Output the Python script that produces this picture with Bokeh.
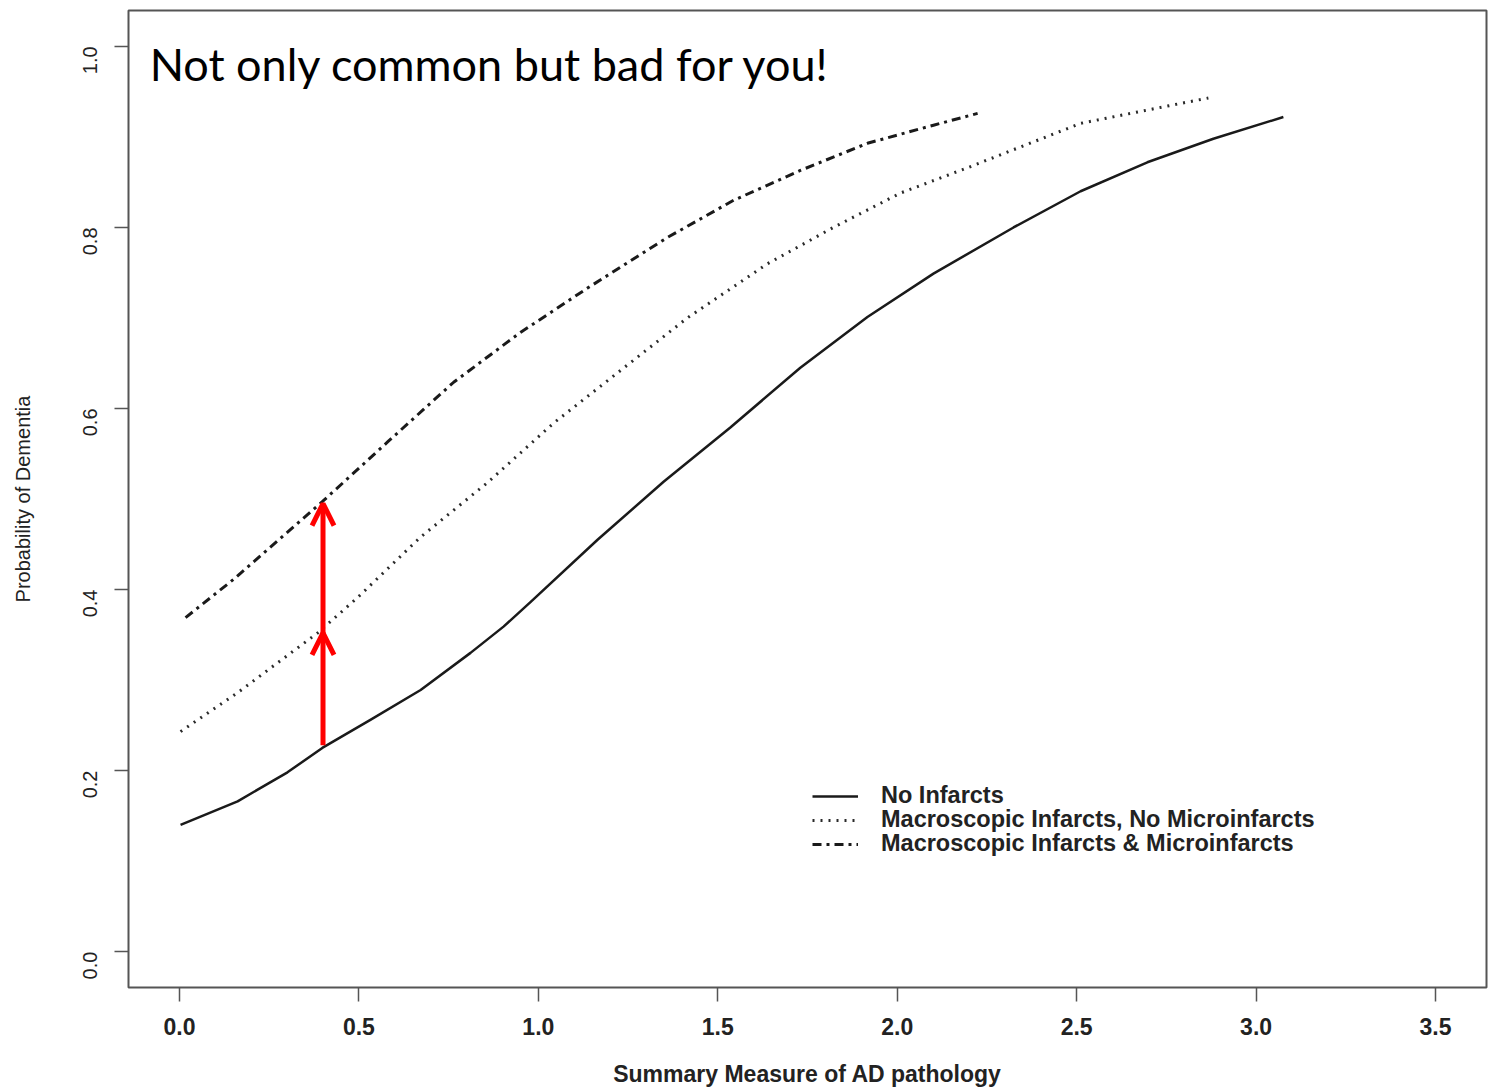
import math
from bokeh.plotting import figure
from bokeh.models import (Range1d, FixedTicker, PrintfTickFormatter, Legend, LegendItem,
                          Label, Arrow, OpenHead, ColumnDataSource)
from bokeh.embed import file_html
from bokeh.resources import INLINE

# ---- data ----
x_none = [0.003, 0.162, 0.301, 0.398, 0.532, 0.672, 0.811, 0.903, 0.978, 1.165, 1.349, 1.535,
          1.730, 1.917, 2.101, 2.324, 2.511, 2.697, 2.881, 3.076]
y_none = [0.140, 0.166, 0.198, 0.225, 0.256, 0.289, 0.330, 0.359, 0.386, 0.455, 0.519, 0.579,
          0.645, 0.701, 0.749, 0.800, 0.840, 0.872, 0.898, 0.922]

x_macro = [0.003, 0.162, 0.385, 0.496, 0.672, 0.858, 1.043, 1.229, 1.415, 1.639, 1.822, 2.009,
           2.196, 2.511, 2.789, 2.867]
y_macro = [0.243, 0.286, 0.352, 0.391, 0.458, 0.518, 0.584, 0.642, 0.700, 0.760, 0.800, 0.838,
           0.866, 0.915, 0.937, 0.943]

x_micro = [0.017, 0.150, 0.398, 0.580, 0.764, 0.950, 1.137, 1.360, 1.544, 1.730, 1.917, 2.101, 2.224]
y_micro = [0.369, 0.411, 0.497, 0.563, 0.629, 0.684, 0.733, 0.789, 0.830, 0.863, 0.893, 0.913, 0.926]

series_labels = ["No Infarcts",
                 "Macroscopic Infarcts, No Microinfarcts",
                 "Macroscopic Infarcts & Microinfarcts"]

x_ticks = [0.0, 0.5, 1.0, 1.5, 2.0, 2.5, 3.0, 3.5]
y_ticks = [0.0, 0.2, 0.4, 0.6, 0.8, 1.0]

arrow_x = [0.4, 0.4]
arrow_y_start = [0.228, 0.352]
arrow_y_end = [0.352, 0.495]

headline = "Not only common but bad for you!"
headline_x = -0.083
headline_y = 0.981

x_title = "Summary Measure of AD pathology"
y_title = "Probability of Dementia"

# ---- figure ----
p = figure(width=1493, height=1089,
           x_range=Range1d(-0.142, 3.642), y_range=Range1d(-0.0397, 1.0397),
           output_backend="svg", toolbar_location=None,
           min_border_left=128, min_border_right=7, min_border_top=10, min_border_bottom=101)
p.grid.visible = False
p.background_fill_color = "white"
p.border_fill_color = "white"
p.outline_line_color = "#555555"
p.outline_line_width = 2

# axes
for ax in (p.xaxis[0], p.yaxis[0]):
    ax.axis_line_color = None
    ax.major_tick_line_color = "#555555"
    ax.major_tick_line_width = 1.5
    ax.major_tick_in = 0
    ax.major_tick_out = 14
    ax.minor_tick_line_color = None
    ax.major_label_text_font = "Liberation Sans"
    ax.major_label_text_color = "#222222"
    ax.axis_label_text_font = "Liberation Sans"
    ax.axis_label_text_color = "#222222"
    ax.axis_label_text_font_style = "normal"
    ax.formatter = PrintfTickFormatter(format="%.1f")

p.xaxis[0].ticker = FixedTicker(ticks=x_ticks)
p.xaxis[0].major_label_text_font_size = "23px"
p.xaxis[0].major_label_text_font_style = "bold"
p.xaxis[0].major_label_standoff = 16
p.xaxis[0].axis_label = x_title
p.xaxis[0].axis_label_text_font_size = "23px"
p.xaxis[0].axis_label_text_font_style = "bold"
p.xaxis[0].axis_label_standoff = 23

p.yaxis[0].ticker = FixedTicker(ticks=y_ticks)
p.yaxis[0].major_label_orientation = math.pi / 2
p.yaxis[0].major_label_text_font_size = "20px"
p.yaxis[0].major_label_standoff = 24
p.yaxis[0].axis_label = y_title
p.yaxis[0].axis_label_text_font_size = "20px"
p.yaxis[0].axis_label_standoff = 40

# curves
r1 = p.line(x_none, y_none, line_color="#1a1a1a", line_width=2.5, line_join="round")
r2 = p.line(x_macro, y_macro, line_color="#2a2a2a", line_width=3, line_dash="2 6", line_join="round")
r3 = p.line(x_micro, y_micro, line_color="#1a1a1a", line_width=3, line_dash="9 5 3 5", line_join="round")

# legend: one entry per row, so that the rows sit 24 px apart as in the reference
legend_rows = [(series_labels[0], r1, 178), (series_labels[1], r2, 154), (series_labels[2], r3, 130)]
for label, rend, vy in legend_rows:
    lg = Legend(items=[LegendItem(label=label, renderers=[rend])],
                location=(684, vy), orientation="vertical",
                border_line_color=None, background_fill_alpha=0,
                padding=0, margin=0, spacing=0,
                glyph_width=46, glyph_height=24, label_height=24, label_standoff=23,
                label_text_font="Liberation Sans", label_text_font_style="bold",
                label_text_font_size="23.5px", label_text_color="#222222")
    p.add_layout(lg)

# red arrows
arrow_src = ColumnDataSource(dict(x0=arrow_x, y0=arrow_y_start, x1=arrow_x, y1=arrow_y_end))
p.add_layout(Arrow(end=OpenHead(line_color="#ff0000", line_width=5, size=22),
                   x_start="x0", y_start="y0", x_end="x1", y_end="y1",
                   line_color="#ff0000", line_width=5, source=arrow_src))

# headline
p.add_layout(Label(x=headline_x, y=headline_y, text=headline, text_font="Lato",
                   text_font_size="45px", text_color="#000000", text_baseline="alphabetic"))

open("out.html", "w").write(file_html(p, INLINE))
